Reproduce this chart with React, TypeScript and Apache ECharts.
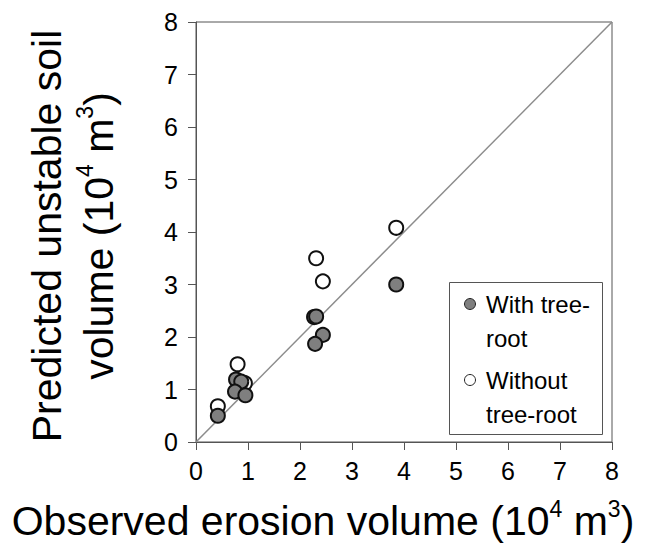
import React, { useEffect, useRef } from "react";
import * as echarts from "echarts";

const xTicks = [0, 1, 2, 3, 4, 5, 6, 7, 8];
const yTicks = [0, 1, 2, 3, 4, 5, 6, 7, 8];

const withRootX = [0.42, 0.77, 0.87, 0.75, 0.95, 2.27, 2.31, 2.44, 2.29, 3.85];
const withRootY = [0.5, 1.19, 1.15, 0.96, 0.89, 2.38, 2.39, 2.04, 1.87, 3.0];

const withoutRootX = [0.42, 0.8, 0.94, 2.31, 2.44, 3.85];
const withoutRootY = [0.68, 1.48, 1.12, 3.5, 3.06, 4.08];

const lineX = [0, 8];
const lineY = [0, 8];

const seriesNames = ["With tree-\nroot", "Without\ntree-root"];

const FONT = "'Liberation Sans', Arial, Helvetica, sans-serif";

export default function App() {
  const ref = useRef<HTMLDivElement>(null);
  useEffect(() => {
    if (!ref.current) return;
    const chart = echarts.init(ref.current, undefined, { renderer: "svg" });
    chart.setOption({
      animation: false,
      backgroundColor: "#fff",
      grid: {
        left: 196,
        top: 22,
        width: 416,
        height: 420,
        show: true,
        borderColor: "#555",
        borderWidth: 1,
        backgroundColor: "transparent",
      },
      xAxis: {
        type: "value",
        min: xTicks[0],
        max: xTicks[xTicks.length - 1],
        interval: 1,
        axisLine: { show: true, lineStyle: { color: "#555", width: 1 } },
        axisTick: { show: true, inside: false, length: 8, lineStyle: { color: "#555" } },
        axisLabel: { fontSize: 25, color: "#000", margin: 16, fontFamily: FONT },
        splitLine: { show: false },
      },
      yAxis: {
        type: "value",
        min: yTicks[0],
        max: yTicks[yTicks.length - 1],
        interval: 1,
        axisLine: { show: true, lineStyle: { color: "#555", width: 1 } },
        axisTick: { show: true, inside: false, length: 8, lineStyle: { color: "#555" } },
        axisLabel: { fontSize: 25, color: "#000", margin: 18, fontFamily: FONT },
        splitLine: { show: false },
      },
      series: [
        {
          type: "line",
          data: lineX.map((x, i) => [x, lineY[i]]),
          symbol: "none",
          lineStyle: { color: "#8c8c8c", width: 1.5 },
          silent: true,
          z: 1,
        },
        {
          name: seriesNames[1],
          type: "scatter",
          data: withoutRootX.map((x, i) => [x, withoutRootY[i]]),
          symbol: "circle",
          symbolSize: 14,
          itemStyle: { color: "#fff", borderColor: "#111", borderWidth: 2, opacity: 1 },
          z: 2,
        },
        {
          name: seriesNames[0],
          type: "scatter",
          data: withRootX.map((x, i) => [x, withRootY[i]]),
          symbol: "circle",
          symbolSize: 14,
          itemStyle: { color: "#7f7f7f", borderColor: "#111", borderWidth: 2, opacity: 1 },
          z: 3,
        },
      ],
      graphic: [
        {
          type: "text",
          x: 323,
          y: 521,
          style: {
            text: "{n|Observed erosion volume (10}{s|4}{n| m}{s|3}{n|)}",
            rich: {
              n: { fontSize: 41, lineHeight: 48, fontFamily: FONT, color: "#000" },
              s: { fontSize: 23, lineHeight: 41, fontFamily: FONT, verticalAlign: "top", color: "#000" },
            },
            align: "center",
            verticalAlign: "middle",
            fill: "#000",
          },
        },
        {
          type: "text",
          x: 73,
          y: 236,
          rotation: Math.PI / 2,
          style: {
            text:
              "{n|Predicted unstable soil}\n{n|volume (10}{s|4}{n| m}{s|3}{n|)}",
            rich: {
              n: { fontSize: 41, lineHeight: 52, fontFamily: FONT, color: "#000" },
              s: { fontSize: 23, lineHeight: 45, fontFamily: FONT, verticalAlign: "top", color: "#000" },
            },
            align: "center",
            verticalAlign: "middle",
            fill: "#000",
          },
        },
        {
          type: "rect",
          shape: { x: 449.5, y: 282.5, width: 153, height: 152 },
          style: { fill: "#fff", stroke: "#555", lineWidth: 1 },
          z: 10,
        },
        {
          type: "circle",
          shape: { cx: 470, cy: 304, r: 5.5 },
          style: { fill: "#7f7f7f", stroke: "#222", lineWidth: 1 },
          z: 11,
        },
        {
          type: "text",
          x: 486,
          y: 287,
          style: {
            text: seriesNames[0],
            fontSize: 24,
            lineHeight: 34,
            fontFamily: FONT,
            fill: "#000",
            align: "left",
            verticalAlign: "top",
          },
          z: 11,
        },
        {
          type: "circle",
          shape: { cx: 470, cy: 380, r: 5.5 },
          style: { fill: "#fff", stroke: "#222", lineWidth: 1 },
          z: 11,
        },
        {
          type: "text",
          x: 486,
          y: 363,
          style: {
            text: seriesNames[1],
            fontSize: 24,
            lineHeight: 34,
            fontFamily: FONT,
            fill: "#000",
            align: "left",
            verticalAlign: "top",
          },
          z: 11,
        },
      ],
    });
    return () => chart.dispose();
  }, []);
  return (
    <div
      ref={ref}
      style={{ position: "fixed", left: 0, top: 0, width: 648, height: 544, background: "#fff" }}
    />
  );
}
